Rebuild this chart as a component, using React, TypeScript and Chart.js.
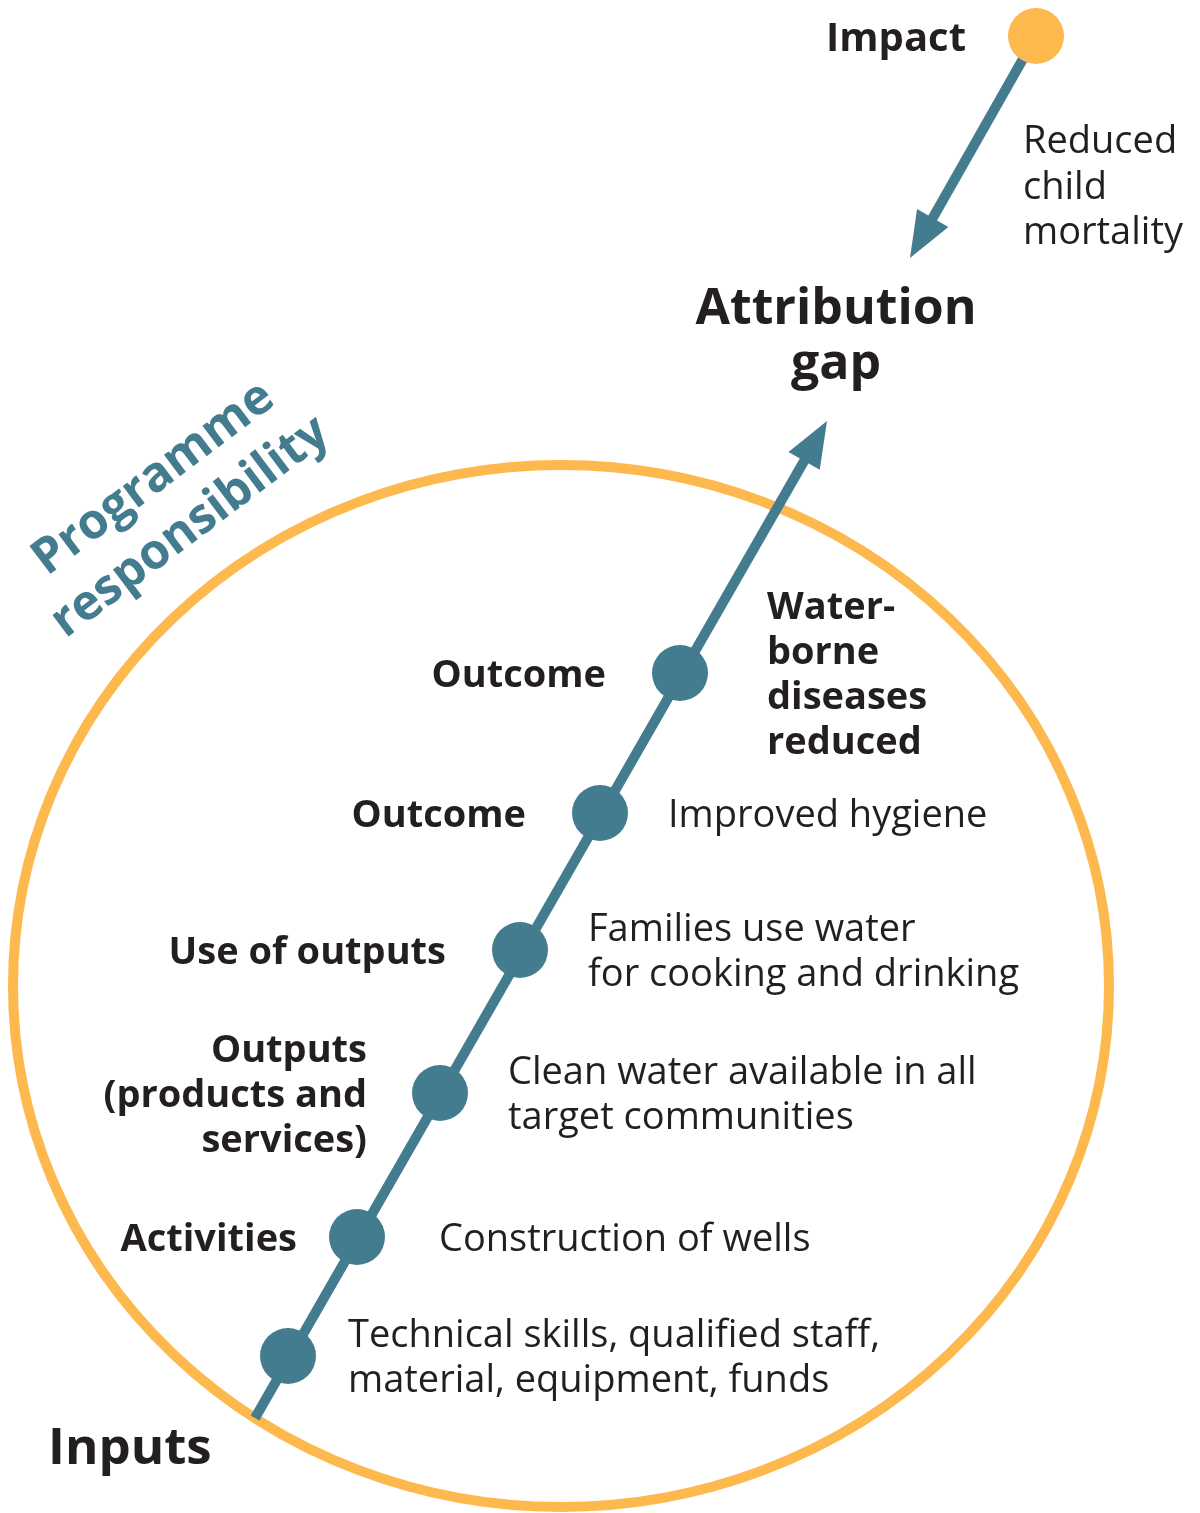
import React, { useEffect, useRef } from 'react';
import { Chart, registerables } from 'chart.js';

Chart.register(...registerables);

// ---- data ----
const stageX = [288, 357, 440, 520, 600, 680];
const stageY = [1356, 1237, 1093, 950, 813, 673];
const stageLabels = ['', 'Activities', 'Outputs\n(products and\nservices)', 'Use of outputs', 'Outcome', 'Outcome'];
const stageResults = [
  'Technical skills, qualified staff,\nmaterial, equipment, funds',
  'Construction of wells',
  'Clean water available in all\ntarget communities',
  'Families use water\nfor cooking and drinking',
  'Improved hygiene',
  'Water-\nborne\ndiseases\nreduced',
];
const chainStart = [255, 1418];
const chainTip = [827, 421];
const impactPoint = [1036, 36];
const impactTip = [910, 258];
const impactTitle = 'Impact';
const impactResult = 'Reduced\nchild\nmortality';
const gapTitle = 'Attribution\ngap';
const inputsTitle = 'Inputs';
const responsibilityTitle = 'Programme\nresponsibility';

// ---- styles ----
const TEAL = '#437c8f';
const ORANGE = '#fdb94e';
const INK = '#231f20';
const FONT = '"Open Sans", "Noto Sans", sans-serif';
const leftGap = [0, 60, 73, 74, 74, 74];
const rightGap = [60, 82, 68, 68, 68, 87];
const ARROW_LEN = 46;
const ARROW_HALF = 18;
const TEXT_DY = 3;

function shorten(from: number[], tip: number[], by: number) {
  const dx = tip[0] - from[0];
  const dy = tip[1] - from[1];
  const d = Math.hypot(dx, dy);
  return { x: tip[0] - (dx / d) * by, y: tip[1] - (dy / d) * by };
}

function drawBlock(ctx: CanvasRenderingContext2D, text: string, x: number, cy: number, align: CanvasTextAlign, font: string, lh: number, color: string) {
  const lines = text.split('\n');
  ctx.save();
  ctx.font = font;
  ctx.fillStyle = color;
  ctx.textAlign = align;
  ctx.textBaseline = 'middle';
  const top = cy - ((lines.length - 1) * lh) / 2;
  lines.forEach((l, i) => ctx.fillText(l, x, top + i * lh));
  ctx.restore();
}

function arrowHead(ctx: CanvasRenderingContext2D, fx: number, fy: number, tx: number, ty: number) {
  const dx = tx - fx;
  const dy = ty - fy;
  const d = Math.hypot(dx, dy);
  const ux = dx / d, uy = dy / d;
  const nx = -uy, ny = ux;
  const bx = tx - ux * ARROW_LEN, by = ty - uy * ARROW_LEN;
  ctx.save();
  ctx.fillStyle = TEAL;
  ctx.beginPath();
  ctx.moveTo(tx, ty);
  ctx.lineTo(bx + nx * ARROW_HALF, by + ny * ARROW_HALF);
  ctx.lineTo(bx - nx * ARROW_HALF, by - ny * ARROW_HALF);
  ctx.closePath();
  ctx.fill();
  ctx.restore();
}

const diagramPlugin = {
  id: 'diagram',
  beforeDatasetsDraw(chart: any) {
    const { ctx, scales } = chart;
    const xs = scales.x, ys = scales.y;
    const cx = xs.getPixelForValue(561), cy = ys.getPixelForValue(986);
    const rx = Math.abs(xs.getPixelForValue(561 + 548) - cx);
    const ry = Math.abs(ys.getPixelForValue(986 + 521) - cy);
    ctx.save();
    ctx.strokeStyle = ORANGE;
    ctx.lineWidth = 10;
    ctx.beginPath();
    ctx.ellipse(cx, cy, rx, ry, 0, 0, Math.PI * 2);
    ctx.stroke();
    ctx.restore();
  },
  afterDatasetsDraw(chart: any) {
    const { ctx, scales } = chart;
    const X = (v: number) => scales.x.getPixelForValue(v);
    const Y = (v: number) => scales.y.getPixelForValue(v);

    arrowHead(ctx, X(chainStart[0]), Y(chainStart[1]), X(chainTip[0]), Y(chainTip[1]));
    arrowHead(ctx, X(impactPoint[0]), Y(impactPoint[1]), X(impactTip[0]), Y(impactTip[1]));

    const bold = `bold 38px ${FONT}`;
    const normal = `38px ${FONT}`;
    stageX.forEach((sx, i) => {
      const px = X(sx), py = Y(stageY[i]) + TEXT_DY;
      if (stageLabels[i]) drawBlock(ctx, stageLabels[i], px - leftGap[i], py, 'right', bold, 45, INK);
      const isBold = i === stageX.length - 1;
      drawBlock(ctx, stageResults[i], px + rightGap[i], py, 'left', isBold ? bold : normal, 45, INK);
    });

    drawBlock(ctx, impactTitle, X(impactPoint[0]) - 70, Y(impactPoint[1]) + 4, 'right', `bold 40px ${FONT}`, 45, INK);
    drawBlock(ctx, impactResult, X(1023), Y(188), 'left', normal, 45.5, INK);
    drawBlock(ctx, gapTitle, X(836), Y(337), 'center', `bold 50px ${FONT}`, 55, INK);
    drawBlock(ctx, inputsTitle, X(48), Y(1449), 'left', `bold 51px ${FONT}`, 55, INK);

    ctx.save();
    ctx.translate(X(172), Y(503));
    ctx.rotate(-37 * Math.PI / 180);
    drawBlock(ctx, responsibilityTitle, 0, 0, 'center', `bold 49px ${FONT}`, 61, TEAL);
    ctx.restore();
  },
};

export default function App() {
  const ref = useRef<HTMLCanvasElement | null>(null);
  useEffect(() => {
    document.body.style.margin = '0';
    const canvas = ref.current!;
    const chainEnd = shorten(chainStart, chainTip, ARROW_LEN - 4);
    const impactEnd = shorten(impactPoint, impactTip, ARROW_LEN - 4);
    const chart = new Chart(canvas, {
      type: 'scatter',
      data: {
        datasets: [
          {
            data: [{ x: impactPoint[0], y: impactPoint[1] }],
            backgroundColor: ORANGE,
            borderWidth: 0,
            pointRadius: 28,
            pointHoverRadius: 28,
            clip: false,
          } as any,
          {
            data: stageX.map((x, i) => ({ x, y: stageY[i] })),
            backgroundColor: TEAL,
            borderWidth: 0,
            pointRadius: 28,
            pointHoverRadius: 28,
            clip: false,
          } as any,
          {
            type: 'line',
            data: [{ x: impactPoint[0], y: impactPoint[1] }, impactEnd],
            borderColor: TEAL,
            borderWidth: 10,
            pointRadius: 0,
            borderCapStyle: 'butt',
            clip: false,
          } as any,
          {
            type: 'line',
            data: [{ x: chainStart[0], y: chainStart[1] }, chainEnd],
            borderColor: TEAL,
            borderWidth: 10,
            pointRadius: 0,
            borderCapStyle: 'butt',
            clip: false,
          } as any,
        ],
      },
      options: {
        animation: false,
        responsive: false,
        devicePixelRatio: 1,
        layout: { padding: 0, autoPadding: false },
        events: [],
        plugins: { legend: { display: false }, tooltip: { enabled: false } },
        scales: {
          x: { type: 'linear', min: 0, max: 1200, display: false },
          y: { type: 'linear', min: 0, max: 1513, reverse: true, display: false },
        },
      },
      plugins: [diagramPlugin],
    } as any);
    return () => chart.destroy();
  }, []);
  return (
    <div style={{ position: 'absolute', left: 0, top: 0, width: 1200, height: 1513, background: '#fff' }}>
      <canvas ref={ref} width={1200} height={1513} style={{ display: 'block', width: 1200, height: 1513 }} />
    </div>
  );
}
